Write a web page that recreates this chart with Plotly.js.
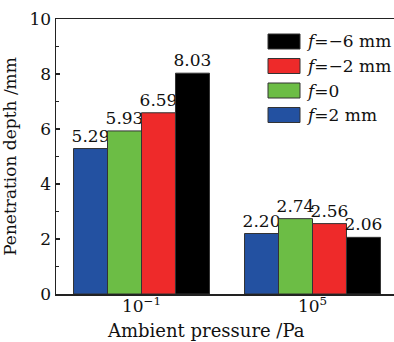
<!DOCTYPE html>
<html><head><meta charset="utf-8">
<script src="https://cdn.plot.ly/plotly-3.0.1.min.js"></script>
<style>html,body{margin:0;padding:0;overflow:hidden;width:394px;height:342px;background:#fff}</style>
</head><body><div id="chart"></div>
<script>
const categories = ['10<sup>−1</sup>', '10<sup>5</sup>'];
const seriesNames = ['<i>f</i>=2 mm', '<i>f</i>=0', '<i>f</i>=−2 mm', '<i>f</i>=−6 mm'];
const seriesColors = ['#2351a1', '#6cbd45', '#ee2a2a', '#000000'];
const f2 = [5.29, 2.20];
const f0 = [5.93, 2.74];
const fm2 = [6.59, 2.56];
const fm6 = [8.03, 2.06];
const seriesValues = [f2, f0, fm2, fm6];
const yTicks = [0, 2, 4, 6, 8, 10];

const FONT = 'DejaVu Serif';
const FS = 17;
const traces = seriesValues.map((vals, i) => ({
  type: 'bar', x: categories, y: vals, name: seriesNames[i],
  marker: {color: seriesColors[i], line: {color: '#333', width: 1}},
  texttemplate: '%{y:.2f}', textposition: 'outside', constraintext: 'none',
  cliponaxis: false, textfont: {family: FONT, size: FS, color: '#111'},
  showlegend: false
}));

const W = 342, H = 275;
const shapes = [], annotations = [];
const order = [3, 2, 1, 0];
order.forEach((si, row) => {
  const ypx = 41.5 + row * 24.5;
  const yc = (294 - ypx) / H;
  shapes.push({type: 'rect', xref: 'paper', yref: 'paper',
    x0: (268 - 56) / W, x1: (300 - 56) / W, y0: yc - 7.5 / H, y1: yc + 7.5 / H,
    fillcolor: seriesColors[si], line: {color: '#333', width: 1}});
  annotations.push({xref: 'paper', yref: 'paper', x: (304 - 56) / W, y: yc,
    xanchor: 'left', yanchor: 'middle', showarrow: false, text: seriesNames[si],
    font: {family: FONT, size: FS, color: '#111'}});
});
annotations.push({xref: 'paper', yref: 'paper', x: (206 - 56) / W, y: (294 - 330) / H,
  xanchor: 'center', yanchor: 'middle', showarrow: false, text: 'Ambient pressure /Pa',
  font: {family: FONT, size: 18, color: '#111'}});

const layout = {
  width: 398, height: 342,
  margin: {l: 56, r: 0, t: 19, b: 48},
  paper_bgcolor: '#fff', plot_bgcolor: '#fff',
  font: {family: FONT, size: FS, color: '#111'},
  barmode: 'group', bargap: 0.205, bargroupgap: 0,
  xaxis: {type: 'category', range: [-0.5, 1.5], showline: true, linecolor: '#222', linewidth: 1.5,
    mirror: true, ticks: '', showgrid: false, zeroline: false, ticklabelstandoff: -4,
    tickfont: {family: FONT, size: FS, color: '#111'}},
  yaxis: {range: [0, 10], tickvals: yTicks, showline: true, linecolor: '#222', linewidth: 1.5,
    mirror: true, ticks: 'inside', ticklen: 4, tickcolor: '#222', tickwidth: 1.2,
    minor: {dtick: 1, ticks: 'inside', ticklen: 2.5, tickcolor: '#222', tickwidth: 1},
    showgrid: false, zeroline: false,
    title: {text: 'Penetration depth /mm', font: {family: FONT, size: FS, color: '#111'}, standoff: 8},
    tickfont: {family: FONT, size: FS, color: '#111'}},
  shapes: shapes, annotations: annotations
};
Plotly.newPlot('chart', traces, layout, {displayModeBar: false, staticPlot: true});
</script></body></html>
